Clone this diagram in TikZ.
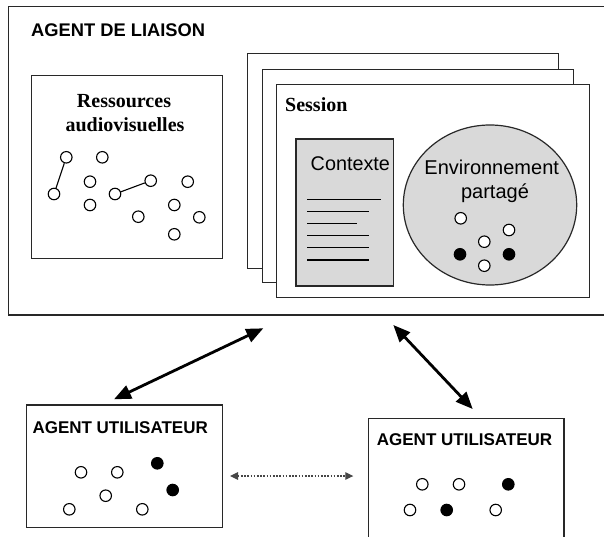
\documentclass[tikz,border=0pt]{standalone}
\usepackage{fontspec}
\setmainfont{Liberation Serif}
\newfontfamily\arialfont{Liberation Sans}
\usetikzlibrary{arrows.meta,shapes.geometric}
\definecolor{panelgray}{RGB}{217,217,217}
\definecolor{framegray}{RGB}{40,40,40}
\definecolor{linkgray}{RGB}{70,70,70}

\begin{document}
\begin{tikzpicture}[x=1pt,y=-1pt,
  frame/.style={draw=framegray, line width=1.4pt, fill=white, inner sep=0pt, anchor=north west},
  sheet/.style={draw=framegray, line width=1.1pt, fill=white, inner sep=0pt, anchor=north west},
  dot/.style={circle, draw=black, line width=1.1pt, fill=white, minimum size=11.5pt, inner sep=0pt},
  fulldot/.style={dot, fill=black},
  sanslabel/.style={inner sep=0pt, anchor=base west, font=\arialfont\bfseries},
  seriflabel/.style={inner sep=0pt, anchor=base, font=\bfseries\fontsize{20}{24}\selectfont},
  textline/.style={line width=1.35pt, draw=black},
  biarrow/.style={line width=2.8pt, {Triangle[length=17pt,width=14pt]}-{Triangle[length=17pt,width=14pt]}},
  peerarrow/.style={draw=linkgray, line width=1.1pt, dash pattern=on 1.6pt off 1.6pt,
    {Triangle[length=8pt,width=7.5pt]}-{Triangle[length=8pt,width=7.5pt]}}
]
\useasboundingbox (0,0) rectangle (604,537);

% liaison agent frame (runs past the right edge)
\node[frame, line width=1.5pt, minimum width=610pt, minimum height=308pt] (liaison) at (7.5,6) {};
\node[sanslabel, font=\arialfont\bfseries\fontsize{18.3}{22}\selectfont] (liaisontitle) at (31,36.7) {AGENT DE LIAISON};

% audiovisual resources
\node[frame, line width=1.3pt, minimum width=191pt, minimum height=182.7pt] (ressources) at (30.7,75) {};
\node[seriflabel] (restitleA) at (124,107.3) {Ressources};
\node[seriflabel] (restitleB) at (125,131.7) {audiovisuelles};
\node[dot] (r1) at (66.3,157.3) {};
\node[dot] (r2) at (102.3,157.3) {};
\node[dot] (r3) at (54,194) {};
\node[dot] (r4) at (90,181.7) {};
\node[dot] (r5) at (90,205) {};
\node[dot] (r6) at (115,194) {};
\node[dot] (r7) at (150.7,180.7) {};
\node[dot] (r8) at (187.7,181.7) {};
\node[dot] (r9) at (174.3,205) {};
\node[dot] (r10) at (138.3,216.7) {};
\node[dot] (r11) at (199.3,217.3) {};
\node[dot] (r12) at (174.3,234.3) {};
\draw[line width=1.1pt] (r1) -- (r3);
\draw[line width=1.1pt] (r6) -- (r7);

% stacked sessions
\node[sheet, minimum width=311.3pt, minimum height=214.4pt] (sessionA) at (246.7,53.3) {};
\node[sheet, minimum width=311.3pt, minimum height=212.7pt] (sessionB) at (261.7,69) {};
\node[sheet, minimum width=312.5pt, minimum height=213pt] (sessionC) at (276,83.7) {};
\node[inner sep=0pt, anchor=base west, font=\bfseries\fontsize{20}{24}\selectfont] (sessiontitle) at (285,111.7) {Session};

% context sheet
\node[frame, fill=panelgray, line width=1.5pt, minimum width=97.7pt, minimum height=146.7pt] (contexte) at (295,138.3) {};
\node[inner sep=0pt, anchor=base west, font=\arialfont\fontsize{19.8}{24}\selectfont] (contextetitle) at (310.5,170.7) {Contexte};
\draw[textline] (307.3,199.3) -- (381,199.3);
\draw[textline] (307.3,211.3) -- (369.3,211.3);
\draw[textline] (307.3,223.7) -- (357.3,223.7);
\draw[textline] (307.3,235.7) -- (369.3,235.7);
\draw[textline] (307.3,247.7) -- (369.3,247.7);
\draw[textline] (307.3,260) -- (369.3,260);

% shared environment
\node[ellipse, draw=framegray, line width=1.2pt, fill=panelgray, minimum width=173.4pt, minimum height=160pt, inner sep=0pt] (env) at (490,205) {};
\node[inner sep=0pt, anchor=base, font=\arialfont\fontsize{20}{24}\selectfont] (envtitleA) at (491.7,175) {Environnement};
\node[inner sep=0pt, anchor=base, font=\arialfont\fontsize{20}{24}\selectfont] (envtitleB) at (495,198.3) {partagé};
\node[dot] (e1) at (460.7,218.3) {};
\node[dot] (e2) at (509,230) {};
\node[dot] (e3) at (484.3,241.7) {};
\node[fulldot] (e4) at (460,254.3) {};
\node[fulldot] (e5) at (509,254.3) {};
\node[dot] (e6) at (484.3,265.7) {};

% user agents
\node[frame, line width=1.3pt, minimum width=195.7pt, minimum height=122.4pt] (userL) at (26,404.3) {};
\node[sanslabel, font=\arialfont\bfseries\fontsize{17}{20}\selectfont] (userLtitle) at (32.3,433.3) {AGENT UTILISATEUR};
\node[dot] (u1) at (81,472.3) {};
\node[dot] (u2) at (117.3,472.3) {};
\node[fulldot] (u3) at (157.3,463.3) {};
\node[fulldot] (u4) at (172.7,490) {};
\node[dot] (u5) at (105.7,495.7) {};
\node[dot] (u6) at (69.3,509.3) {};
\node[dot] (u7) at (142.3,509.3) {};

\node[frame, line width=1.3pt, minimum width=195.6pt, minimum height=140pt] (userR) at (367.7,417.7) {};
\node[sanslabel, font=\arialfont\bfseries\fontsize{17}{20}\selectfont] (userRtitle) at (376.7,445) {AGENT UTILISATEUR};
\node[dot] (v1) at (422.3,484.3) {};
\node[dot] (v2) at (459,484.3) {};
\node[fulldot] (v3) at (508.3,484.3) {};
\node[dot] (v4) at (410,510) {};
\node[fulldot] (v5) at (446.7,510) {};
\node[dot] (v6) at (495.7,510) {};

% exchanges between agents
\coordinate (linkLtop) at (263.3,328.3);
\coordinate (linkLbottom) at (114,399.3);
\coordinate (linkRtop) at (393.3,325);
\coordinate (linkRbottom) at (472.7,409);
\coordinate (peerL) at (230,476);
\coordinate (peerR) at (353.3,476);
\draw[biarrow] (linkLbottom) -- (linkLtop);
\draw[biarrow] (linkRtop) -- (linkRbottom);
\draw[peerarrow] (peerL) -- (peerR);
\end{tikzpicture}
\end{document}
